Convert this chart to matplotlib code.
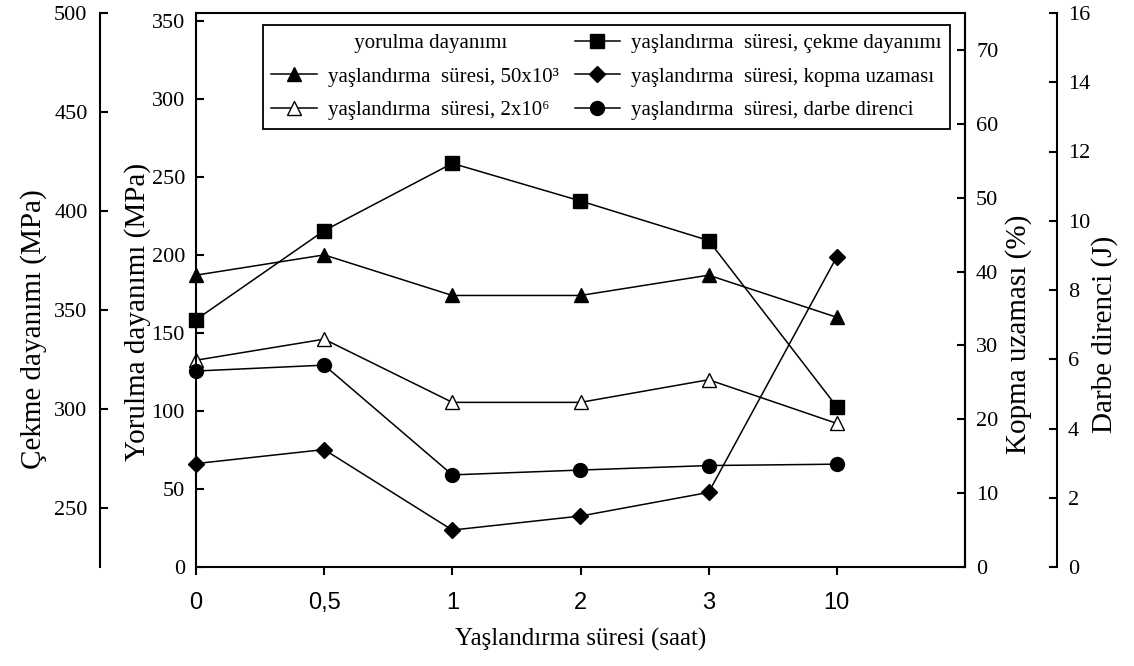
import matplotlib
matplotlib.use('Agg')
import matplotlib.pyplot as plt
from matplotlib.lines import Line2D

plt.rcParams['font.family'] = ['Liberation Serif', 'DejaVu Serif']

# Aging time categories (hours)
saat = ['0', '0,5', '1', '2', '3', '10']

# Fatigue strength (MPa) at 50x10^3 and 2x10^6 cycles
yorulma_50e3 = [187, 200, 174, 174, 187, 160]
yorulma_2e6 = [132.5, 146, 105.5, 105.5, 120, 92]
# Tensile strength (MPa)
cekme = [345, 390, 424, 405, 385, 301]
# Elongation at break (%)
kopma = [14.0, 15.9, 5.0, 6.9, 10.1, 42.0]
# Impact energy (J)
darbe = [5.66, 5.83, 2.66, 2.80, 2.93, 2.97]

W, H = 1134, 666
fig = plt.figure(figsize=(W / 100, H / 100), dpi=100)
ax = fig.add_axes([196 / W, 1 - 567 / H, 769 / W, 554 / H])
ax_c = ax.twinx()
ax_k = ax.twinx()
ax_d = ax.twinx()

x = list(range(len(saat)))
lw = 1.1
line_kw = dict(color='black', linewidth=lw, markeredgecolor='black', clip_on=False)

l_tri, = ax.plot(x, yorulma_50e3, marker='^', markersize=10, markerfacecolor='black',
                 label='yaşlandırma  süresi, 50x10³', **line_kw)
l_otri, = ax.plot(x, yorulma_2e6, marker='^', markersize=10, markerfacecolor='white',
                  label='yaşlandırma  süresi, 2x10⁶', **line_kw)
l_sq, = ax_c.plot(x, cekme, marker='s', markersize=9.5, markerfacecolor='black',
                  label='yaşlandırma  süresi, çekme dayanımı', **line_kw)
l_dia, = ax_k.plot(x, kopma, marker='D', markersize=8, markerfacecolor='black',
                   label='yaşlandırma  süresi, kopma uzaması', **line_kw)
l_cir, = ax_d.plot(x, darbe, marker='o', markersize=10, markerfacecolor='black',
                   label='yaşlandırma  süresi, darbe direnci', **line_kw)

# Limits
ax.set_xlim(0, 6)
ax.set_ylim(0, 355)
ax_c.set_ylim(220, 500)
ax_k.set_ylim(0, 75)
ax_d.set_ylim(0, 16)

spine_lw = 1.5
tick_kw = dict(direction='in', length=6, width=spine_lw, labelsize=16)

# Fatigue axis (inner left)
ax.set_yticks(range(0, 351, 50))
ax.tick_params(axis='y', pad=8, **tick_kw)
ax.set_xticks(x)
ax.set_xticklabels(saat, family='Liberation Sans', fontsize=17)
ax.tick_params(axis='x', direction='out', length=6, width=spine_lw, pad=12)
for s in ax.spines.values():
    s.set_linewidth(spine_lw)

# Tensile axis (outer left)
ax_c.spines['left'].set_position(('axes', -96 / 769))
ax_c.spines['left'].set_visible(True)
for side in ('right', 'top', 'bottom'):
    ax_c.spines[side].set_visible(False)
ax_c.spines['left'].set_linewidth(spine_lw)
ax_c.yaxis.set_ticks_position('left')
ax_c.yaxis.set_label_position('left')
ax_c.set_yticks(range(250, 501, 50))
ax_c.tick_params(axis='y', pad=9, **tick_kw)

# Elongation axis (right)
for side in ('left', 'top', 'bottom'):
    ax_k.spines[side].set_visible(False)
ax_k.spines['right'].set_linewidth(spine_lw)
ax_k.set_yticks(range(0, 71, 10))
ax_k.tick_params(axis='y', pad=8, **tick_kw)

# Impact axis (outer right)
ax_d.spines['right'].set_position(('axes', 1 + 92 / 769))
for side in ('left', 'top', 'bottom'):
    ax_d.spines[side].set_visible(False)
ax_d.spines['right'].set_linewidth(spine_lw)
ax_d.set_yticks(range(0, 17, 2))
ax_d.tick_params(axis='y', pad=8, **tick_kw)

# Axis labels
ax.set_xlabel('Yaşlandırma süresi (saat)', fontsize=18, labelpad=10)
ax.set_ylabel('Yorulma dayanımı (MPa)', fontsize=21)
ax_c.set_ylabel('Çekme dayanımı (MPa)', fontsize=21)
ax_k.set_ylabel('Kopma uzaması (%)', fontsize=21)
ax_d.set_ylabel('Darbe direnci (J)', fontsize=21)
ax.yaxis.set_label_coords(-0.0585, 0.46)
ax_c.yaxis.set_label_coords(-0.194, 0.43)
ax_k.yaxis.set_label_coords(1.052, 0.42)
ax_d.yaxis.set_label_coords(1.164, 0.42)

# Legend: header entry plus the five series
header = Line2D([], [], linestyle='none', marker=None)
handles = [header, l_tri, l_otri, l_sq, l_dia, l_cir]
labels = ['     yorulma dayanımı', l_tri.get_label(), l_otri.get_label(),
          l_sq.get_label(), l_dia.get_label(), l_cir.get_label()]
leg = ax_d.legend(handles, labels, ncol=2, loc='upper right',
                  bbox_to_anchor=(0.98, 0.978), borderaxespad=0, fontsize=15,
                  handlelength=2.2, handletextpad=0.5, columnspacing=0.77,
                  borderpad=0.4, labelspacing=0.67, fancybox=False,
                  edgecolor='black', framealpha=1)
leg.get_frame().set_linewidth(1.3)

fig.savefig('out.png', dpi=100, facecolor='white')
